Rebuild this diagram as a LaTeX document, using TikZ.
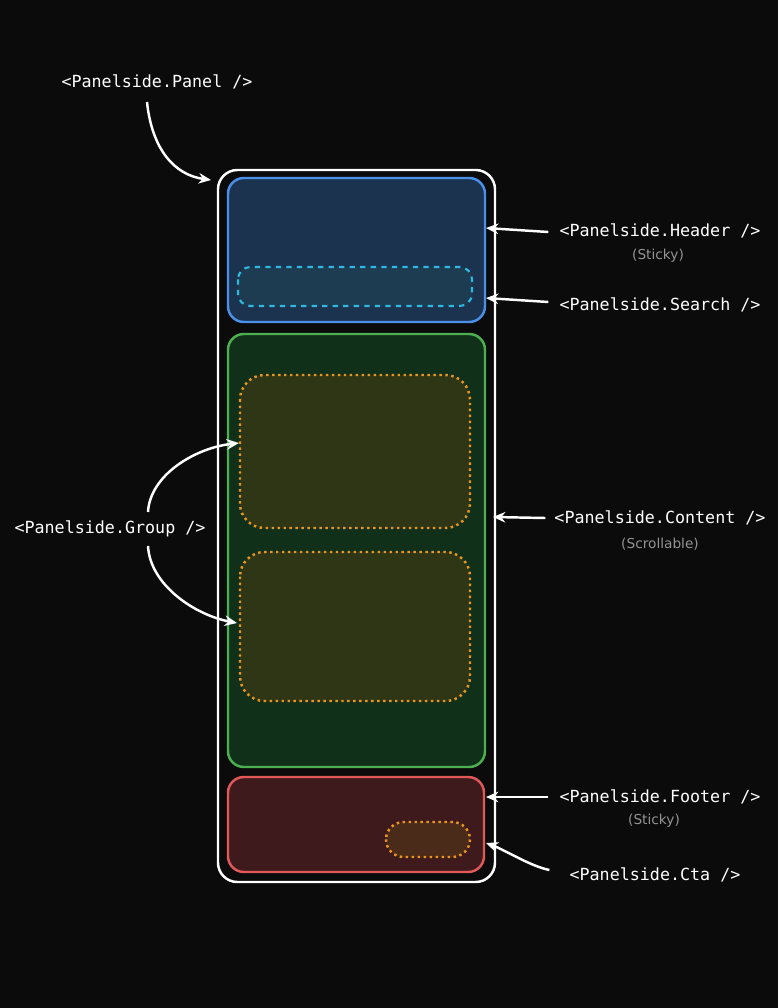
\documentclass[tikz,border=0pt]{standalone}
\usepackage{fontspec}
\setmonofont{DejaVu Sans Mono}
\setsansfont{DejaVu Sans}
\usetikzlibrary{arrows.meta,positioning}
\definecolor{bg}{HTML}{0B0B0B}
\definecolor{hdrline}{HTML}{4A8FE8}\definecolor{hdrfill}{HTML}{1C3350}
\definecolor{srchline}{HTML}{2FB8E0}\definecolor{srchfill}{HTML}{1D3C52}
\definecolor{cntline}{HTML}{4CB050}\definecolor{cntfill}{HTML}{11301A}
\definecolor{grpline}{HTML}{E8961E}\definecolor{grpfill}{HTML}{2F3616}
\definecolor{ftline}{HTML}{E05858}\definecolor{ftfill}{HTML}{3E1A1C}
\definecolor{ctafill}{HTML}{4A2A18}
\tikzset{
  box/.style={rounded corners=9pt,line width=1.4pt},
  lbl/.style={text=white,font=\ttfamily\fontsize{9.5}{11}\selectfont},
  sub/.style={text=gray!85,font=\sffamily\fontsize{7.8}{9}\selectfont},
  arr/.style={-{Stealth[length=7pt,width=6pt]},white,line width=1.4pt}
}
\begin{document}
\begin{tikzpicture}[x=0.02cm,y=-0.02cm]
\useasboundingbox (0,0) rectangle (778,1008);
\fill[bg] (0,0) rectangle (778,1008);
%panel and parts
\draw[box,white,rounded corners=11pt] (218,170) rectangle (495,882);
\draw[box,draw=hdrline,fill=hdrfill] (228,178) rectangle (485,322);
\draw[box,draw=srchline,fill=srchfill,dashed,line width=1.2pt,rounded corners=7pt] (238,267) rectangle (472,306);
\draw[box,draw=cntline,fill=cntfill] (228,334) rectangle (485,767);
\draw[box,draw=grpline,fill=grpfill,dotted,rounded corners=14pt] (240,375) rectangle (470,528);
\draw[box,draw=grpline,fill=grpfill,dotted,rounded corners=14pt] (240,552) rectangle (470,701);
\draw[box,draw=ftline,fill=ftfill] (228,777) rectangle (484,872);
\draw[box,draw=grpline,fill=ctafill,dotted,rounded corners=10pt] (386,822) rectangle (470,857);
%labels
\node[lbl] (panel) at (157,82) {<Panelside.Panel />};
\node[lbl] (header) at (660,231) {<Panelside.Header />};
\node[sub] (hsticky) at (658,256) {(Sticky)};
\node[lbl] (search) at (660,305) {<Panelside.Search />};
\node[lbl] (group) at (110,529) {<Panelside.Group />};
\node[lbl] (content) at (660,518) {<Panelside.Content />};
\node[sub] (scroll) at (660,544) {(Scrollable)};
\node[lbl] (footer) at (660,797) {<Panelside.Footer />};
\node[sub] (fsticky) at (654,821) {(Sticky)};
\node[lbl] (cta) at (655,875) {<Panelside.Cta />};
%arrow targets
\coordinate (panelT) at (211,180);
\coordinate (headerT) at (486,228);
\coordinate (searchT) at (486,298);
\coordinate (contentT) at (493,517);
\coordinate (footerT) at (486,797);
\coordinate (ctaT) at (486,843);
\coordinate (grpA) at (239,443);
\coordinate (grpB) at (237,623);
\draw[arr] (147,102) .. controls (152,150) and (175,175) .. (panelT);
\draw[arr] (header.west) ++(-5,1) -- (headerT);
\draw[arr] (search.west) ++(-5,-3) -- (searchT);
\draw[arr] (content.west) ++(-3,0) -- (contentT);
\draw[arr] (footer.west) ++(-5,0) -- (footerT);
\draw[arr] (cta.west) ++(-14,-5) .. controls (530,866) and (505,850) .. (ctaT);
\draw[arr] (148,512) .. controls (150,475) and (195,448) .. (grpA);
\draw[arr] (148,546) .. controls (150,585) and (195,615) .. (grpB);
\end{tikzpicture}
\end{document}
